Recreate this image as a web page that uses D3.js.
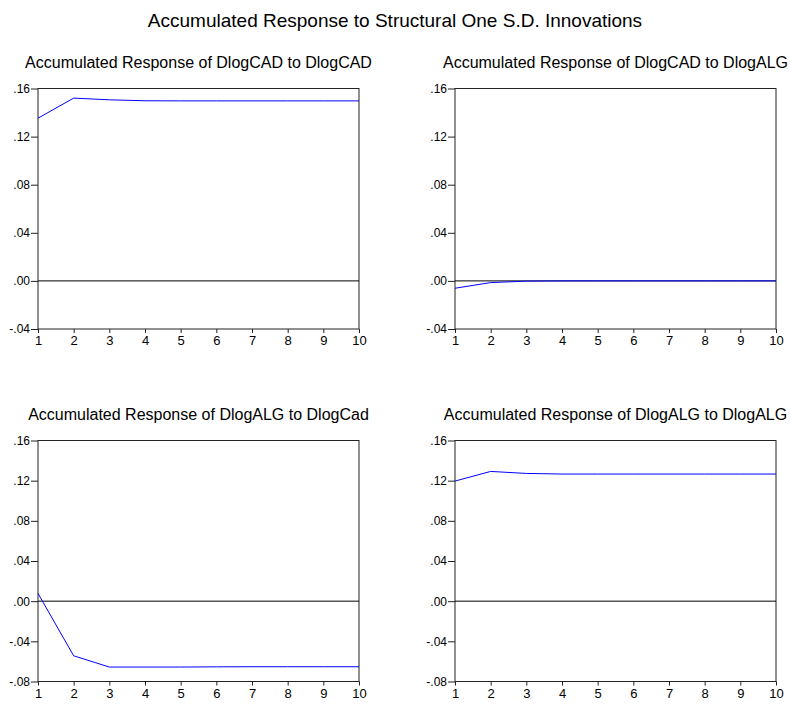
<!DOCTYPE html>
<html>
<head>
<meta charset="utf-8">
<script src="https://cdn.jsdelivr.net/npm/d3@7"></script>
<style>
  html, body { margin: 0; padding: 0; background: #fff; }
  svg { display: block; }
  text { font-family: "Liberation Sans", Arial, sans-serif; fill: #000; }
</style>
</head>
<body>
<svg id="chart" width="790" height="704"></svg>
<script>
// Impulse-response horizons
const periods = [1, 2, 3, 4, 5, 6, 7, 8, 9, 10];

// Accumulated responses per shock/response pair
const respCadToCad = [0.1353, 0.1520, 0.1506, 0.1498, 0.1497, 0.1497, 0.1497, 0.1497, 0.1497, 0.1497];
const respCadToAlg = [-0.0061, -0.0014, -0.0002, 0.0000, 0.0000, 0.0000, 0.0000, 0.0000, 0.0000, 0.0000];
const respAlgToCad = [0.0077, -0.0544, -0.0656, -0.0656, -0.0656, -0.0654, -0.0653, -0.0653, -0.0653, -0.0653];
const respAlgToAlg = [0.1196, 0.1292, 0.1272, 0.1266, 0.1266, 0.1266, 0.1266, 0.1266, 0.1266, 0.1266];

// Axis tick values
const yTicksTop = [-0.04, 0.00, 0.04, 0.08, 0.12, 0.16];
const yTicksBottom = [-0.08, -0.04, 0.00, 0.04, 0.08, 0.12, 0.16];

const mainTitle = "Accumulated Response to Structural One S.D. Innovations";

const panels = [
  { title: "Accumulated Response of DlogCAD to DlogCAD", values: respCadToCad, ticks: yTicksTop,
    box: { left: 38, right: 359, top: 88.5, bottom: 329 } },
  { title: "Accumulated Response of DlogCAD to DlogALG", values: respCadToAlg, ticks: yTicksTop,
    box: { left: 455, right: 776, top: 88.5, bottom: 329 } },
  { title: "Accumulated Response of DlogALG to DlogCad", values: respAlgToCad, ticks: yTicksBottom,
    box: { left: 38, right: 359, top: 440.5, bottom: 681.5 } },
  { title: "Accumulated Response of DlogALG to DlogALG", values: respAlgToAlg, ticks: yTicksBottom,
    box: { left: 455, right: 776, top: 440.5, bottom: 681.5 } }
];

const svg = d3.select("#chart");

svg.append("text")
  .attr("x", 395)
  .attr("y", 27)
  .attr("text-anchor", "middle")
  .style("font-size", "19px")
  .text(mainTitle);

// Labels like ".16", ".00", "-.04" (plain hyphen, no leading zero)
const fmt = v => (v < -1e-9 ? "-" : "") + Math.abs(v).toFixed(2).replace(/^0/, "");

panels.forEach(p => {
  const b = p.box;
  const x = d3.scaleLinear().domain([1, 10]).range([b.left, b.right]);
  const y = d3.scaleLinear().domain(d3.extent(p.ticks)).range([b.bottom, b.top]);
  const g = svg.append("g");

  g.append("text")
    .attr("x", (b.left + b.right) / 2)
    .attr("y", b.top - 21)
    .attr("text-anchor", "middle")
    .style("font-size", "16px")
    .text(p.title);

  // plot frame
  g.append("rect")
    .attr("x", b.left)
    .attr("y", b.top)
    .attr("width", b.right - b.left)
    .attr("height", b.bottom - b.top)
    .attr("fill", "none")
    .attr("stroke", "#222")
    .attr("stroke-width", 1);

  // zero reference line
  g.append("line")
    .attr("x1", b.left).attr("x2", b.right)
    .attr("y1", y(0)).attr("y2", y(0))
    .attr("stroke", "#000")
    .attr("stroke-width", 1);

  const yAxis = d3.axisLeft(y).tickValues(p.ticks).tickFormat(fmt).tickSize(7).tickPadding(1);
  const ya = g.append("g").attr("transform", `translate(${b.left},0)`).call(yAxis);
  ya.select(".domain").remove();
  ya.selectAll("line").attr("stroke", "#222");
  ya.selectAll("text").style("font-size", "12px").attr("dy", "0.32em");

  const xAxis = d3.axisBottom(x).tickValues(periods).tickFormat(d3.format("d")).tickSize(4).tickPadding(3);
  const xa = g.append("g").attr("transform", `translate(0,${b.bottom})`).call(xAxis);
  xa.select(".domain").remove();
  xa.selectAll("line").attr("stroke", "#222");
  xa.selectAll("text").style("font-size", "13px");

  const line = d3.line()
    .x((d, i) => x(periods[i]))
    .y(d => y(d));

  g.append("path")
    .datum(p.values)
    .attr("d", line)
    .attr("fill", "none")
    .attr("stroke", "#0000ff")
    .attr("stroke-width", 1);
});
</script>
</body>
</html>
